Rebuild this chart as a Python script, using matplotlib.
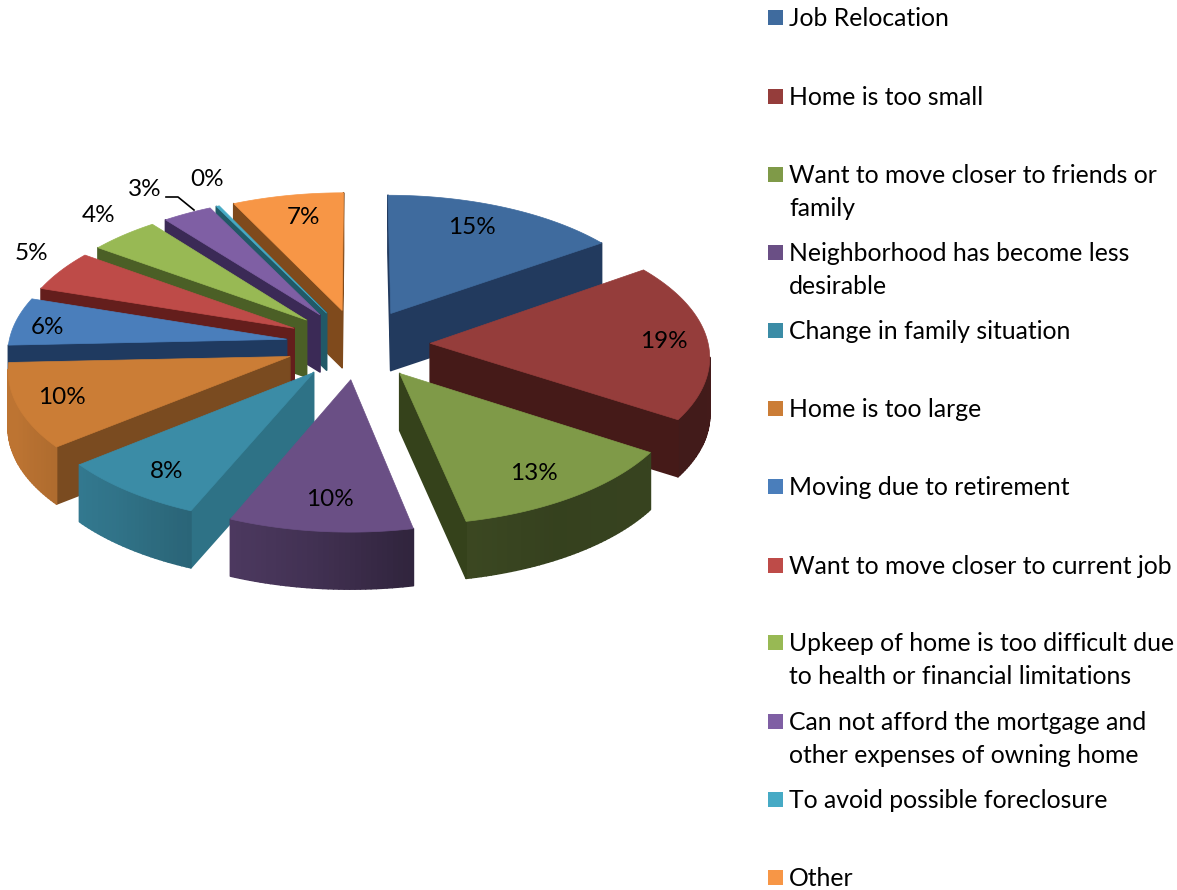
import numpy as np
import matplotlib
matplotlib.use("Agg")
import matplotlib.pyplot as plt
from matplotlib.patches import Polygon, Rectangle
from matplotlib.colors import to_rgb

plt.rcParams['font.family'] = ['Lato', 'DejaVu Sans']

# reasons for moving, share in percent
reasons = [
    "Job Relocation",
    "Home is too small",
    "Want to move closer to friends or\nfamily",
    "Neighborhood has become less\ndesirable",
    "Change in family situation",
    "Home is too large",
    "Moving due to retirement",
    "Want to move closer to current job",
    "Upkeep of home is too difficult due\nto health or financial limitations",
    "Can not afford the mortgage and\nother expenses of owning home",
    "To avoid possible foreclosure",
    "Other",
]
shares = [15.3, 18.8, 12.6, 9.7, 7.8, 10.1, 5.7, 4.9, 4.49, 3.2, 0.2, 7.2]

top_colors = ["#3f6b9e", "#953d3b", "#7f9a48", "#6a4f85", "#3b8ca6", "#cb7d36",
              "#4a7ebb", "#be4b48", "#98b954", "#7f5fa4", "#46aac5", "#f79646"]
wall_colors = ["#223a5e", "#451a18", "#35421b", "#3b2a50", "#2e7286", "#7a4b20",
               "#1f3a60", "#641e1c", "#4b5f26", "#3b2a56", "#215967", "#7f4a1c"]
label_pos = [(472, 227), (664, 341), (534, 473), (330, 499), (167, 471), (62, 398),
             (47, 327), (31, 254), (99, 215), (145, 190), (207, 180), (303, 217)]
legend_y = [17, 96, 174, 252, 330, 408, 486, 565, 642, 721, 799, 877]

# pie geometry in pixels
cx, cy = 358, 344
rx, ry = 278, 135
persp = 0.085
depth = 57
explode = 0.26

# rim brightness against the angle going clockwise from 12 o'clock
shade_ang = [0, 100, 150, 170, 187, 220, 250, 280, 360]
shade_val = [0.45, 0.45, 0.42, 0.47, 0.62, 0.82, 0.93, 0.93, 0.6]


def project(u, v, z=0.0):
    s = 1 + persp * v
    return cx + rx * u * s, cy + ry * v * s + z


def darker(color, f):
    return tuple(min(1, c * f) for c in to_rgb(color))


def draw_slice(ax, a0, a1, top, wall):
    mid = (a0 + a1) / 2
    ox = explode * np.sin(mid)
    oy = -explode * np.cos(mid)
    angs = np.linspace(a0, a1, max(3, int(np.degrees(a1 - a0)) + 2))
    us = [ox] + list(ox + np.sin(angs))
    vs = [oy] + list(oy - np.cos(angs))
    top_pts = [project(u, v) for u, v in zip(us, vs)]
    low_pts = [project(u, v, depth) for u, v in zip(us, vs)]

    # side faces, only those turned towards the viewer
    n = len(top_pts)
    for i in range(n):
        j = (i + 1) % n
        if top_pts[j][0] >= top_pts[i][0]:
            continue
        if i == 0 or j == 0:
            col = wall
        else:
            deg = np.degrees((angs[i - 1] + angs[j - 1]) / 2)
            col = darker(top, np.interp(deg, shade_ang, shade_val))
        quad = [top_pts[i], top_pts[j], low_pts[j], low_pts[i]]
        ax.add_patch(Polygon(quad, closed=True, facecolor=col, edgecolor=col, lw=1.2,
                             joinstyle="round"))
    ax.add_patch(Polygon(top_pts, closed=True, facecolor=top, edgecolor=top, lw=0.5))


fig = plt.figure(figsize=(11.77, 8.9), dpi=100)
ax = fig.add_axes([0, 0, 1, 1])
ax.set_xlim(0, 1177)
ax.set_ylim(890, 0)
ax.axis("off")

edges = np.cumsum([0] + shares) / sum(shares) * 2 * np.pi
mids = (edges[:-1] + edges[1:]) / 2

# back slices first so the front ones paint over them
order = sorted(range(len(shares)), key=lambda k: np.cos(mids[k]), reverse=True)
for k in order:
    draw_slice(ax, edges[k], edges[k + 1], top_colors[k], wall_colors[k])

for k, (lx, ly) in enumerate(label_pos):
    ax.text(lx, ly, "%d%%" % round(shares[k]), fontsize=17.5, color="black",
            ha="center", va="center", zorder=10)

# leader line of the small slice
ax.plot([166, 178, 194], [197, 197, 210], color="black", lw=1.2, zorder=10)

for k, name in enumerate(reasons):
    ax.add_patch(Rectangle((768, legend_y[k] - 7), 15, 15, facecolor=top_colors[k], edgecolor="none"))
    for i, line in enumerate(name.split("\n")):
        ax.text(789, legend_y[k] + 1.5 + i * 33, line, fontsize=17.85, color="black",
                ha="left", va="center")

fig.savefig("out.png", dpi=100, facecolor="white")
